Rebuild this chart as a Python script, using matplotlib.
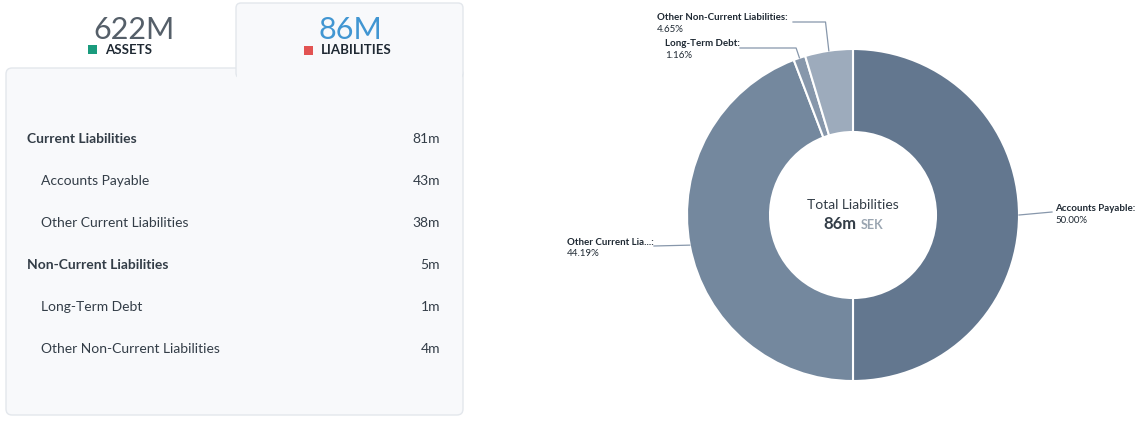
import numpy as np
import matplotlib.pyplot as plt
from matplotlib.patches import FancyBboxPatch, Rectangle

plt.rcParams['font.family'] = ['Lato', 'DejaVu Sans']

# Data
total_assets = "622M"
total_liabilities = "86M"
row_labels = ["Current Liabilities", "Accounts Payable", "Other Current Liabilities",
              "Non-Current Liabilities", "Long-Term Debt", "Other Non-Current Liabilities"]
row_values = ["81m", "43m", "38m", "5m", "1m", "4m"]
row_is_header = [True, False, False, True, False, False]

slice_labels = ["Accounts Payable", "Other Current Lia...", "Long-Term Debt",
                "Other Non-Current Liabilities"]
slice_pcts = [50.00, 44.19, 1.16, 4.65]
slice_colors = ["#63778f", "#74889e", "#8797ab", "#9dabbc"]

W, H = 1143, 436
fig = plt.figure(figsize=(W / 100, H / 100), dpi=100)
fig.patch.set_facecolor("white")

# overlay axes in pixel coordinates
ov = fig.add_axes([0, 0, 1, 1])
ov.set_xlim(0, W)
ov.set_ylim(H, 0)
ov.axis("off")

card_bg = "#f8f9fb"
edge = "#e3e7ec"
text_dark = "#333d47"

# card
ov.add_patch(FancyBboxPatch((6, 68), 457, 347, boxstyle="round,pad=0,rounding_size=6",
                            fc=card_bg, ec=edge, lw=1, zorder=1))
# liabilities tab
ov.add_patch(FancyBboxPatch((236, 3), 227, 75, boxstyle="round,pad=0,rounding_size=5",
                            fc=card_bg, ec=edge, lw=1, zorder=2))
ov.add_patch(Rectangle((236.6, 66), 225.8, 14, fc=card_bg, ec="none", zorder=3))

# tab headings
ov.text(134, 30, total_assets, ha="center", va="center", fontsize=22, color="#555f69", zorder=4)
ov.add_patch(Rectangle((88, 45), 9, 9, fc="#1a9b7d", ec="none", zorder=4))
ov.text(105, 49.5, "ASSETS", ha="left", va="center", fontsize=9.5, fontweight="bold",
        color="#1f2933", zorder=4)
ov.text(350, 30, total_liabilities, ha="center", va="center", fontsize=22, color="#4196d2", zorder=4)
ov.add_patch(Rectangle((304, 46), 9, 9, fc="#e25352", ec="none", zorder=4))
ov.text(321, 50.5, "LIABILITIES", ha="left", va="center", fontsize=9.5, fontweight="bold",
        color="#1f2933", zorder=4)

# rows
for i, (lab, val, hdr) in enumerate(zip(row_labels, row_values, row_is_header)):
    y = 138.5 + i * 42
    x = 27 if hdr else 41
    ov.text(x, y, lab, ha="left", va="center", fontsize=10,
            fontweight="bold" if hdr else "normal", color=text_dark, zorder=4)
    ov.text(440, y, val, ha="right", va="center", fontsize=10, color=text_dark, zorder=4)

# donut
cx, cy, R = 853, 215, 166
pie_ax = fig.add_axes([(cx - R) / W, (H - cy - R) / H, 2 * R / W, 2 * R / H])
pie_ax.patch.set_alpha(0)
wedges, _ = pie_ax.pie(slice_pcts, colors=slice_colors, startangle=90, counterclock=False,
                       radius=1, wedgeprops=dict(width=0.5, edgecolor="white", linewidth=1.5))
pie_ax.set_xlim(-1, 1)
pie_ax.set_ylim(-1, 1)
pie_ax.set_aspect("equal")
pie_ax.axis("off")

pie_ax.text(0, 0.06, "Total Liabilities", ha="center", va="center", fontsize=10, color="#333d47")
pie_ax.text(0.024, -0.055, "86m", ha="right", va="center", fontsize=12, fontweight="bold",
            color="#333d47")
pie_ax.text(0.045, -0.06, "SEK", ha="left", va="center", fontsize=9, fontweight="bold",
            color="#9aa5b1")

# leader lines and labels (pixel offsets of label anchors)
label_px = [(1052, 208, "left"), (654, 242, "right"), (740, 44, "right"), (793, 18, "right")]
label_text_x = [1055, 567, 665, 657]
for w, name, pct, (lx, ly, side), tx in zip(wedges, slice_labels, slice_pcts, label_px, label_text_x):
    mid = np.deg2rad((w.theta1 + w.theta2) / 2)
    ex, ey = np.cos(mid), np.sin(mid)
    lxd, lyd = (lx - cx) / R, (cy - ly - 4) / R
    if side == "left":
        xs = [ex, lxd]
        ys = [ey, lyd]
    elif abs(ex) < 0.5:
        xs = [ex, ex - 0.02, lxd]
        ys = [ey, lyd, lyd]
    else:
        xs = [ex, lxd]
        ys = [ey, lyd]
    pie_ax.plot(xs, ys, color="#8797ab", lw=0.9, clip_on=False)
    txd = (tx - cx) / R
    pie_ax.text(txd, (cy - ly) / R, name + ":", ha="left", va="center", fontsize=7,
                fontweight="bold", color="#1f2933", clip_on=False)
    pie_ax.text(txd, (cy - ly - 12) / R, f"{pct:.2f}%", ha="left", va="center", fontsize=7,
                color="#1f2933", clip_on=False)

fig.savefig("out.png", dpi=100)
